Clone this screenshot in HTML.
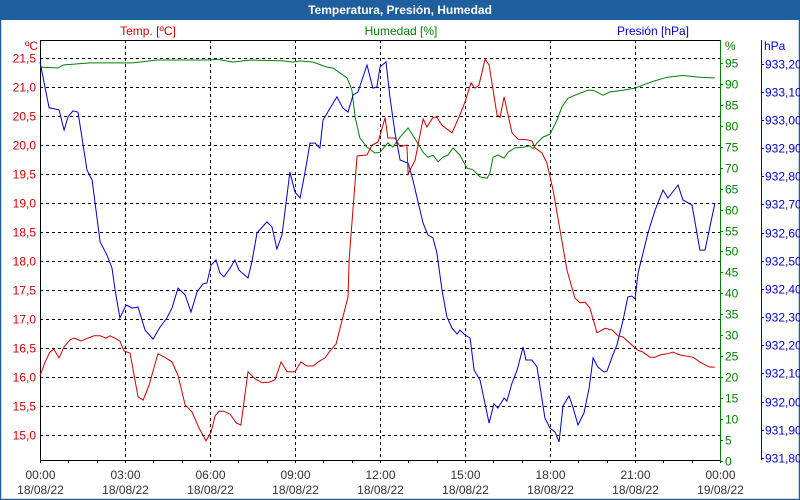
<!DOCTYPE html>
<html><head><meta charset="utf-8"><style>
body{margin:0;background:#fff;}
svg{display:block;font-family:"Liberation Sans",sans-serif;}
</style></head><body>
<svg id="chart" width="800" height="500" xmlns="http://www.w3.org/2000/svg">
<rect x="0" y="0" width="800" height="500" fill="#fff"/>
<rect x="0.5" y="0.5" width="799" height="499" fill="none" stroke="#1f5f9e" stroke-width="1.5"/>
<rect x="0" y="0" width="800" height="20" fill="#1f5f9e"/>
<text x="400" y="14" text-anchor="middle" fill="#fff" font-size="12" font-weight="bold">Temperatura, Presión, Humedad</text>
<text x="148" y="35" text-anchor="middle" fill="#d00000" font-size="12">Temp. [ºC]</text>
<text x="401" y="35" text-anchor="middle" fill="#008000" font-size="12">Humedad [%]</text>
<text x="653" y="35" text-anchor="middle" fill="#0000cc" font-size="12">Presión [hPa]</text>
<text x="38" y="50" text-anchor="end" fill="#d00000" font-size="12">ºC</text>
<text x="725" y="50" fill="#008000" font-size="12">%</text>
<text x="764" y="50" fill="#0000cc" font-size="12">hPa</text>
<g id="grid"></g><g id="axes"></g><g id="series"></g>
</svg>
<script>
const tempHours=[0,0.18,0.35,0.49,0.67,0.85,1.06,1.2,1.45,1.69,1.91,2.12,2.33,2.47,2.68,2.82,2.96,3.18,3.46,3.64,3.85,4.16,4.41,4.66,4.87,5.12,5.36,5.61,5.86,6.04,6.18,6.32,6.49,6.71,6.92,7.09,7.34,7.59,7.84,8.08,8.29,8.51,8.72,9,9.21,9.42,9.64,9.88,10.06,10.24,10.45,10.62,10.87,10.91,11.19,11.54,11.72,11.93,12.18,12.28,12.53,12.71,12.95,12.99,13.24,13.52,13.66,13.87,14.01,14.19,14.54,14.82,15,15.21,15.35,15.49,15.71,15.85,16.13,16.24,16.38,16.66,16.87,17.19,17.36,17.47,17.72,17.89,18.11,18.6,18.88,19.06,19.24,19.41,19.66,19.94,20.19,20.4,20.58,21.07,21.28,21.53,21.71,21.88,22.13,22.34,22.59,23.05,23.29,23.47,23.65,23.82];
const tempValues=[16.02,16.26,16.43,16.48,16.33,16.52,16.64,16.67,16.62,16.67,16.71,16.71,16.67,16.71,16.66,16.62,16.45,16.41,15.66,15.6,15.86,16.4,16.34,16.26,16.03,15.52,15.4,15.12,14.9,15.05,15.33,15.41,15.41,15.36,15.21,15.17,16.09,15.97,15.9,15.91,15.95,16.26,16.09,16.09,16.26,16.19,16.19,16.28,16.33,16.45,16.57,16.9,17.38,18.02,19.81,19.83,20,20.05,20.47,20.12,20.12,19.97,20,19.5,19.74,20.45,20.31,20.48,20.48,20.34,20.21,20.52,20.74,21.07,20.98,21.03,21.48,21.38,20.52,20.48,20.83,20.21,20.1,20.09,20.07,19.95,19.86,19.69,19.22,17.84,17.36,17.28,17.29,17.19,16.76,16.84,16.81,16.71,16.69,16.47,16.43,16.34,16.34,16.38,16.4,16.43,16.38,16.34,16.26,16.21,16.17,16.17];
const humHours=[0,0.64,0.81,1.76,3.28,4.13,5.89,6.25,6.81,7.41,8.58,8.93,9.18,9.64,10.13,10.34,10.84,11.01,11.12,11.29,11.54,11.82,12,12.28,12.46,12.71,12.99,13.31,13.52,13.69,13.87,14.05,14.22,14.4,14.58,14.82,15.07,15.28,15.53,15.78,15.88,15.99,16.16,16.38,16.52,16.76,17.05,17.29,17.4,17.54,17.75,18,18.25,18.42,18.64,18.99,19.34,19.52,19.87,20.12,20.58,21,21.35,21.64,22.13,22.69,23.29,23.82];
const humValues=[94,93.8,94.5,95,95,95.7,95.7,95.9,95.2,95.7,95.5,95.2,95.5,95.2,94,93.8,91.4,88.5,82.1,77.1,74.9,73.5,73.7,75.9,74.9,77.3,79.5,76.1,73.7,72.5,73,71.4,72.5,73,74.7,73,69.9,69.5,67.8,67.5,68.7,72.5,73,72.3,73.7,74.7,74.9,75.2,74.5,75.9,77.3,78,81.4,84.5,86.6,87.6,88.5,88.5,87.3,88.1,88.5,89,89.9,90.6,91.6,92,91.6,91.4];
const presHours=[0,0.32,0.67,0.85,0.99,1.16,1.34,1.66,1.84,2.12,2.36,2.54,2.65,2.82,3.04,3.25,3.46,3.71,3.99,4.24,4.48,4.66,4.87,5.12,5.33,5.54,5.75,5.89,6.04,6.21,6.35,6.49,6.71,6.88,7.02,7.34,7.48,7.66,8.01,8.19,8.36,8.54,8.82,9,9.18,9.35,9.53,9.71,9.88,9.99,10.24,10.48,10.69,10.87,11.05,11.22,11.54,11.75,11.89,12,12.21,12.35,12.53,12.71,12.99,13.16,13.34,13.52,13.69,13.87,14.01,14.19,14.36,14.54,14.72,14.82,15,15.18,15.32,15.53,15.85,16.02,16.16,16.38,16.48,16.66,16.84,17.05,17.15,17.36,17.54,17.82,18,18.18,18.32,18.46,18.67,18.81,18.99,19.2,19.38,19.52,19.69,19.91,20.01,20.19,20.36,20.58,20.75,20.89,21,21.11,21.46,21.71,21.99,22.16,22.52,22.69,23.01,23.29,23.47,23.82];
const presValues=[933.206,933.043,933.036,932.964,933.011,933.032,933.028,932.822,932.787,932.567,932.521,932.474,932.396,932.297,932.343,932.332,932.336,932.254,932.222,932.265,932.297,932.332,932.403,932.379,932.318,932.389,932.418,932.421,932.485,932.503,932.457,932.443,932.474,932.503,932.467,932.439,932.496,932.599,932.638,932.62,932.542,932.592,932.815,932.744,932.723,932.812,932.918,932.918,932.9,933,933.042,933.082,933.042,933.028,933.089,933.099,933.195,933.113,933.117,933.188,933.206,933.082,932.954,932.858,932.847,932.787,932.709,932.634,932.592,932.581,932.528,932.396,932.301,932.261,932.24,932.254,932.237,932.226,932.112,932.077,931.924,931.992,931.977,932.013,932.002,932.066,932.112,932.194,932.148,932.148,932.123,931.942,931.906,931.892,931.857,931.985,932.02,931.981,931.917,931.96,932.048,932.155,932.123,932.105,932.109,932.159,932.201,932.29,932.372,932.375,932.364,932.457,932.599,932.68,932.751,932.723,932.769,932.716,932.698,932.538,932.538,932.705];
const tempTicks=[15,15.5,16,16.5,17,17.5,18,18.5,19,19.5,20,20.5,21,21.5];
const humTicks=[0,5,10,15,20,25,30,35,40,45,50,55,60,65,70,75,80,85,90,95];
const presTicks=[931.8,931.9,932.0,932.1,932.2,932.3,932.4,932.5,932.6,932.7,932.8,932.9,933.0,933.1,933.2];
const timeTicks=[0,3,6,9,12,15,18,21,24];
const timeLabels=["00:00","03:00","06:00","09:00","12:00","15:00","18:00","21:00","00:00"];
const dateLabels=["18/08/22","18/08/22","18/08/22","18/08/22","18/08/22","18/08/22","18/08/22","18/08/22","19/08/22"];

const X0=40,X1=720,YT=40,YB=460;
const xS=h=>X0+h*(X1-X0)/24;
const yT=t=>435-(t-15)*58;
const yH=v=>461-v*4.19;
const yP=p=>458-(p-931.8)*281.7;
const NS="http://www.w3.org/2000/svg";
function mk(tag,parent,attrs){const e=document.createElementNS(NS,tag);for(const k in attrs)e.setAttribute(k,attrs[k]);parent.appendChild(e);return e;}
const grid=document.getElementById('grid'),axes=document.getElementById('axes'),series=document.getElementById('series');
const fmt=(v,d)=>v.toFixed(d).replace('.',',');

tempTicks.forEach(t=>{
  const y=Math.round(yT(t))+0.5;
  const l=mk('line',grid,{x1:X0,x2:X1,y1:y,y2:y,stroke:'#000','stroke-dasharray':'3,3','stroke-width':1});
  
  
  const tx=mk('text',axes,{x:36,y:y+4,'text-anchor':'end',fill:'#d00000','font-size':12});
  tx.textContent=fmt(t,1);
  
  
});
timeTicks.forEach((h,i)=>{
  const x=Math.round(xS(h))+0.5;
  if(i>0&&i<timeTicks.length-1){
    const l=mk('line',grid,{x1:x,x2:x,y1:YT,y2:YB,stroke:'#000','stroke-dasharray':'3,3','stroke-width':1});
    
    
  }
  const t1=mk('text',axes,{x:x,y:479,'text-anchor':'middle',fill:'#333','font-size':12});
  t1.textContent=timeLabels[i];
  
  
  const t2=mk('text',axes,{x:x,y:494,'text-anchor':'middle',fill:'#333','font-size':12});
  t2.textContent=dateLabels[i];
  
  
});
for(let h=0;h<=24;h++){
  const x=Math.round(xS(h))+0.5;
  const l=mk('line',axes,{x1:x,x2:x,y1:YB,y2:YB+3,stroke:'#000'});
  
  
}
let a;
a=mk('line',axes,{x1:X0+0.5,x2:X0+0.5,y1:YT,y2:YB,stroke:'#000'});

a=mk('line',axes,{x1:X0,x2:X1,y1:YT+0.5,y2:YT+0.5,stroke:'#000'});

a=mk('line',axes,{x1:X0,x2:X1,y1:YB+0.5,y2:YB+0.5,stroke:'#000'});

a=mk('line',axes,{x1:X1+0.5,x2:X1+0.5,y1:YT,y2:YB+1,stroke:'#008000'});

a=mk('line',axes,{x1:761.5,x2:761.5,y1:YT,y2:YB,stroke:'#0000cc'});

humTicks.forEach(v=>{
  const y=Math.round(yH(v))+0.5;
  const tk=mk('line',axes,{x1:X1,x2:X1+3,y1:y,y2:y,stroke:'#008000'});
  
  
  const tx=mk('text',axes,{x:725,y:y+4,fill:'#008000','font-size':12});
  tx.textContent=String(v);
  
  
});
presTicks.forEach(v=>{
  const y=Math.round(yP(v))+0.5;
  const tk=mk('line',axes,{x1:761,x2:764,y1:y,y2:y,stroke:'#0000cc'});
  
  
  const tx=mk('text',axes,{x:765,y:y+4,fill:'#0000cc','font-size':12});
  tx.textContent=fmt(v,2);
  
  
});
function line(hs,vs,ys,color){
  return hs.map((h,i)=>xS(h).toFixed(1)+','+ys(vs[i]).toFixed(1)).join(' ');
}
const pg=mk('polyline',series,{points:line(humHours,humValues,yH),fill:'none',stroke:'#008000','stroke-width':1});


const pb=mk('polyline',series,{points:line(presHours,presValues,yP),fill:'none',stroke:'#0000cc','stroke-width':1});


const pr=mk('polyline',series,{points:line(tempHours,tempValues,yT),fill:'none',stroke:'#d00000','stroke-width':1});


</script>
</body></html>
